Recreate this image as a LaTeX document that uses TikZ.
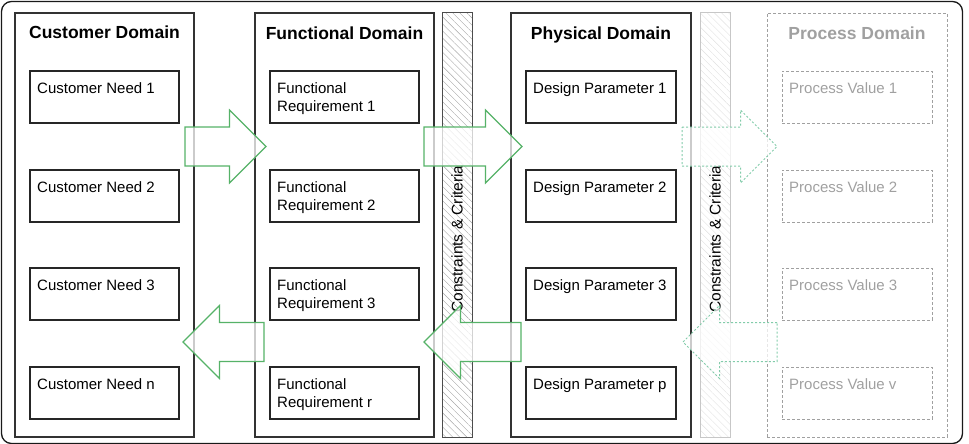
\documentclass[tikz,border=0pt]{standalone}
\usepackage{fontspec}
\setmainfont{Liberation Sans}
\usetikzlibrary{calc,patterns.meta}
\definecolor{flowgreen}{RGB}{86,178,104}
\definecolor{mintgreen}{RGB}{130,204,170}
\definecolor{greytext}{RGB}{160,160,160}
\tikzset{
  domainbox/.style={draw=black!80,line width=1.2pt,minimum width=179,minimum height=424,inner sep=0},
  itembox/.style={draw=black!85,line width=1.1pt,minimum width=149,minimum height=52,inner sep=0},
  itemtext/.style={anchor=north west,inner sep=0,align=left,font=\fontsize{15}{17.5}\selectfont},
  domtitle/.style={anchor=base,inner sep=0,font=\fontsize{17.5}{20}\selectfont\bfseries},
  barbox/.style={draw=black!70,line width=1pt,minimum width=30,minimum height=424,inner sep=0,
    pattern={Lines[angle=-45,distance=5pt,line width=0.4pt]},pattern color=black!35},
  bartext/.style={rotate=90,inner sep=0,font=\fontsize{15.5}{17.5}\selectfont},
  flowarrow/.style={draw=flowgreen,line width=1.1pt,fill=white,fill opacity=0.75},
  ghostarrow/.style={draw=mintgreen,line width=1pt,dash pattern=on 2pt off 2pt,fill=white,fill opacity=0.75},
  ghostbox/.style={draw=greytext,line width=0.9pt,dash pattern=on 3pt off 2pt,text=greytext},
}
\begin{document}
\begin{tikzpicture}[x=1pt,y=-1pt]%
% block arrow from tail #2 to tip #3
\global\def\blockarrow[#1]#2#3{%
 \coordinate (hb) at ($(#3)!36.5pt!(#2)$);
 \draw[#1] ($(#2)+(0,-19.5)$) -- ($(hb)+(0,-19.5)$) -- ($(hb)+(0,-36.5)$)
  -- (#3) -- ($(hb)+(0,36.5)$) -- ($(hb)+(0,19.5)$) -- ($(#2)+(0,19.5)$) -- cycle;}
\useasboundingbox (0,0) rectangle (969,444);
\draw[line width=1.3pt,black!90,rounded corners=10pt] (1.5,1.5) rectangle (962.5,443.5);
% domains
\node[domainbox] (cust) at (104.5,225) {};
\node[domainbox] (func) at (344.5,225) {};
\node[domainbox,minimum width=180] (phys) at (601,225) {};
\node[domainbox,ghostbox,minimum width=180] (proc) at (857,225) {};
\node[domtitle] at (104.5,39) {Customer Domain};
\node[domtitle] at (344.5,39.5) {Functional Domain};
\node[domtitle] at (601,39.5) {Physical Domain};
\node[domtitle,text=greytext] at (857,39.5) {Process Domain};
% constraint bars
\node[barbox] (bar1) at (457,225) {};
\node[barbox,draw=black!22,pattern color=black!12] (bar2) at (715,225) {};
\node[bartext] at (457,239) {Constraints \& Criteria};
\node[bartext] at (715,239) {Constraints \& Criteria};
% customer needs
\node[itembox] (cn1) at (104.5,97) {};
\node[itembox] (cn2) at (104.5,196) {};
\node[itembox] (cn3) at (104.5,294) {};
\node[itembox] (cn4) at (104.5,393) {};
\node[itemtext] at (37,82.5) {Customer Need 1};
\node[itemtext] at (37,181.5) {Customer Need 2};
\node[itemtext] at (37,279.5) {Customer Need 3};
\node[itemtext] at (37,378.5) {Customer Need n};
% functional requirements
\node[itembox] (fr1) at (344.5,97) {};
\node[itembox] (fr2) at (344.5,196) {};
\node[itembox] (fr3) at (344.5,294) {};
\node[itembox] (fr4) at (344.5,393) {};
\node[itemtext] at (277,82.5) {Functional\\Requirement 1};
\node[itemtext] at (277,181.5) {Functional\\Requirement 2};
\node[itemtext] at (277,279.5) {Functional\\Requirement 3};
\node[itemtext] at (277,378.5) {Functional\\Requirement r};
% design parameters
\node[itembox,minimum width=150] (dp1) at (601,97) {};
\node[itembox,minimum width=150] (dp2) at (601,196) {};
\node[itembox,minimum width=150] (dp3) at (601,294) {};
\node[itembox,minimum width=150] (dp4) at (601,393) {};
\node[itemtext] at (533,82.5) {Design Parameter 1};
\node[itemtext] at (533,181.5) {Design Parameter 2};
\node[itemtext] at (533,279.5) {Design Parameter 3};
\node[itemtext] at (533,378.5) {Design Parameter p};
% process values
\node[itembox,ghostbox,minimum width=150] (pv1) at (857,97) {};
\node[itembox,ghostbox,minimum width=150] (pv2) at (857,196) {};
\node[itembox,ghostbox,minimum width=150] (pv3) at (857,294) {};
\node[itembox,ghostbox,minimum width=150] (pv4) at (857,393) {};
\node[itemtext,text=greytext] at (789,82.5) {Process Value 1};
\node[itemtext,text=greytext] at (789,181.5) {Process Value 2};
\node[itemtext,text=greytext] at (789,279.5) {Process Value 3};
\node[itemtext,text=greytext] at (789,378.5) {Process Value v};
% mapping arrows
\coordinate (r1a) at (185,146.5);
\coordinate (r1b) at (266,146.5);
\coordinate (r2a) at (424,146.5);
\coordinate (r2b) at (522,146.5);
\coordinate (r3a) at (682,146.5);
\coordinate (r3b) at (777,146.5);
\coordinate (l1a) at (264,342);
\coordinate (l1b) at (183,342);
\coordinate (l2a) at (521,342);
\coordinate (l2b) at (424,342);
\coordinate (l3a) at (777,342);
\coordinate (l3b) at (683,342);
\blockarrow[flowarrow]{r1a}{r1b}
\blockarrow[flowarrow]{r2a}{r2b}
\blockarrow[ghostarrow]{r3a}{r3b}
\blockarrow[flowarrow]{l1a}{l1b}
\blockarrow[flowarrow]{l2a}{l2b}
\blockarrow[ghostarrow]{l3a}{l3b}
\end{tikzpicture}
\end{document}
